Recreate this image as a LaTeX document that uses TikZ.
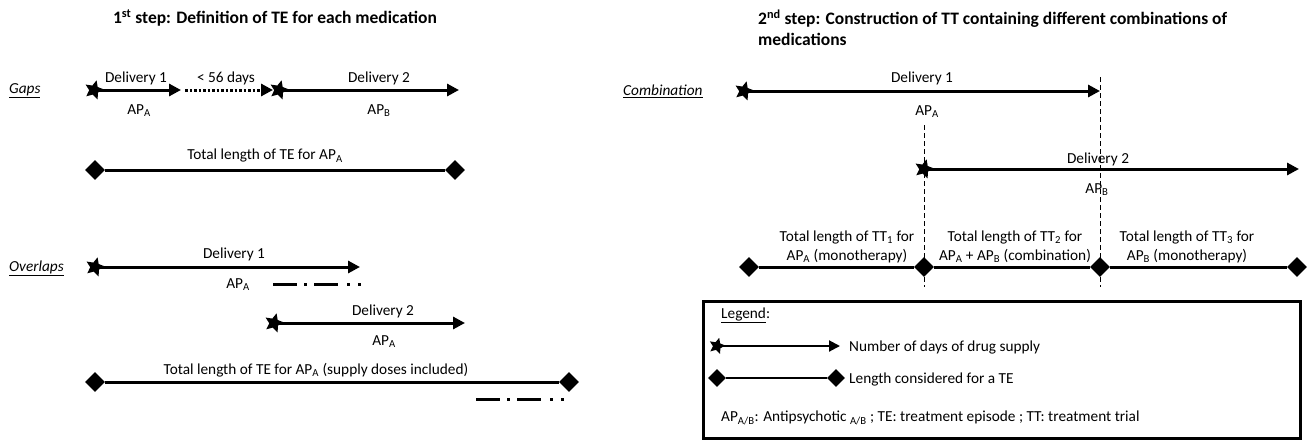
\documentclass[tikz,border=0pt]{standalone}
\usepackage{fontspec}
\setmainfont{Carlito}
\usetikzlibrary{arrows.meta,shapes.geometric}

\tikzset{
  supply/.style={line width=3pt, -{Triangle[length=12pt,width=12pt]}},
  startip/.style={star, star points=5, star point ratio=2.1, fill, inner sep=0pt, minimum size=20pt, rotate=-15},
  tetip/.style={diamond, fill, inner sep=0pt, minimum size=20pt},
  telen/.style={line width=3pt},
  vcut/.style={line width=1pt, dash pattern=on 5pt off 3pt},
  dosecut/.style={line width=3pt, dash pattern=on 24pt off 7pt on 3pt off 7pt on 24pt off 9pt on 3pt off 8pt on 3pt off 20pt},
  lbl/.style={font=\fontsize{15.3}{19}\selectfont, inner sep=1pt},
  ttl/.style={font=\fontsize{17.5}{21}\selectfont\bfseries, inner sep=1pt}
}

\begin{document}
\begin{tikzpicture}[x=1pt, y=-1pt]
    \useasboundingbox (0,0) rectangle (1312,442);

    % Titles
    \node[ttl] (t1) at (275,18) {1\textsuperscript{st} step: Definition of TE for each medication};
    \node[ttl, anchor=west, align=left] (t2) at (757,28) {2\textsuperscript{nd} step: Construction of TT containing different combinations of\\medications};

    % Case names
    \foreach \n/\x/\y/\txt in {gaps/8/91/Gaps, over/8/268/Overlaps, comb/622/91/Combination}
        \node[lbl, anchor=west] (\n) at (\x,\y) {\underline{\textit{\txt}}};

    % Gaps
    \coordinate (ga) at (94,90);   % start delivery 1
    \coordinate (gb) at (181,90);  % end delivery 1
    \coordinate (gc) at (185,90);  % gap start
    \coordinate (gd) at (273,90);  % gap end
    \coordinate (ge) at (279,90);  % start delivery 2
    \coordinate (gf) at (459,90);  % end delivery 2
    \coordinate (gg) at (95,170);  % TE start
    \coordinate (gh) at (455,170); % TE end

    % Overlaps
    \coordinate (oa) at (95,267);
    \coordinate (ob) at (360,267);
    \coordinate (oc) at (274,323);
    \coordinate (od) at (465,323);
    \coordinate (oe) at (95,382);
    \coordinate (of) at (569,382);
    \coordinate (og) at (273,284); % leftover doses of delivery 1
    \coordinate (oh) at (362,284);
    \coordinate (oi) at (476,399); % same, moved to the end
    \coordinate (oj) at (564,399);

    % Combination
    \coordinate (ca) at (744,91);
    \coordinate (cb) at (1100,91);
    \coordinate (cc) at (924,169);
    \coordinate (cd) at (1299,169);
    \coordinate (ce) at (749,267);
    \coordinate (cf) at (924,267);
    \coordinate (cg) at (1100,267);
    \coordinate (ch) at (1297,267);
    \coordinate (ci) at (924,125);  % cut lines
    \coordinate (cj) at (924,287);
    \coordinate (ck) at (1100,77);
    \coordinate (cl) at (1100,287);

    % Legend
    \coordinate (la) at (717,346);
    \coordinate (lb) at (840,346);
    \coordinate (lc) at (717,378);
    \coordinate (ld) at (836,378);

    % End marks
    \foreach \p in {ga, ge, oa, oc, ca, cc}
        \node[startip] (s\p) at (\p) {};
    \node[startip, minimum size=17pt] (sla) at (la) {};
    \foreach \p in {gg, gh, oe, of, ce, cf, cg, ch}
        \node[tetip] (d\p) at (\p) {};
    \foreach \p in {lc, ld}
        \node[tetip, minimum size=18pt] (d\p) at (\p) {};

    % Edges
    \draw[supply] (sga.center) -- (gb);
    \draw[supply, dash pattern=on 2.5pt off 2pt] (gc) -- (gd);
    \draw[supply] (sge.center) -- (gf);
    \draw[telen] (dgg) -- (dgh);
    \draw[supply] (soa.center) -- (ob);
    \draw[supply] (soc.center) -- (od);
    \draw[telen] (doe) -- (dof);
    \draw[dosecut] (og) -- (oh);
    \draw[dosecut] (oi) -- (oj);
    \draw[supply] (sca.center) -- (cb);
    \draw[supply] (scc.center) -- (cd);
    \draw[telen] (dce) -- (dcf) -- (dcg) -- (dch);
    \draw[vcut] (ci) -- (cj);
    \draw[vcut] (ck) -- (cl);
    \draw[line width=2pt, -{Triangle[length=11pt,width=11pt]}] (sla.center) -- (lb);
    \draw[line width=2.4pt] (dlc) -- (dld);

    % Labels
    \foreach \n/\x/\y/\txt in {d1/136/78/Delivery 1, gap/226/78/< 56 days, d2/379/78/Delivery 2,
        a1/139/111/AP\textsubscript{A}, b1/379/111/AP\textsubscript{B},
        te1/265/156/Total length of TE for AP\textsubscript{A},
        d3/234/254/Delivery 1, a2/238/285/AP\textsubscript{A},
        d4/383/311/Delivery 2, a3/384/342/AP\textsubscript{A},
        te2/316/370/Total length of TE for AP\textsubscript{A} (supply doses included),
        d5/922/78/Delivery 1, a4/927/112/AP\textsubscript{A},
        d6/1098/159/Delivery 2, b2/1097/190/AP\textsubscript{B}}
        \node[lbl] (\n) at (\x,\y) {\txt};
    \foreach \n/\x/\txt in {tt1/847/{Total length of TT\textsubscript{1} for\\AP\textsubscript{A} (monotherapy)},
        tt2/1015/{Total length of TT\textsubscript{2} for\\AP\textsubscript{A} + AP\textsubscript{B} (combination)},
        tt3/1187/{Total length of TT\textsubscript{3} for\\AP\textsubscript{B} (monotherapy)}}
        \node[lbl, align=center] (\n) at (\x,247) {\txt};

    % Legend box
    \draw[line width=3pt] (703,301) rectangle (1300,438);
    \node[lbl, anchor=west] (leg) at (720,315) {\underline{Legend}:};
    \node[lbl, anchor=west] (leg1) at (848,347) {Number of days of drug supply};
    \node[lbl, anchor=west] (leg2) at (848,379) {Length considered for a TE};
    \node[lbl, anchor=west] (leg3) at (720,418) {AP\textsubscript{A/B}: Antipsychotic \textsubscript{A/B} ; TE: treatment episode ; TT: treatment trial};
\end{tikzpicture}
\end{document}
